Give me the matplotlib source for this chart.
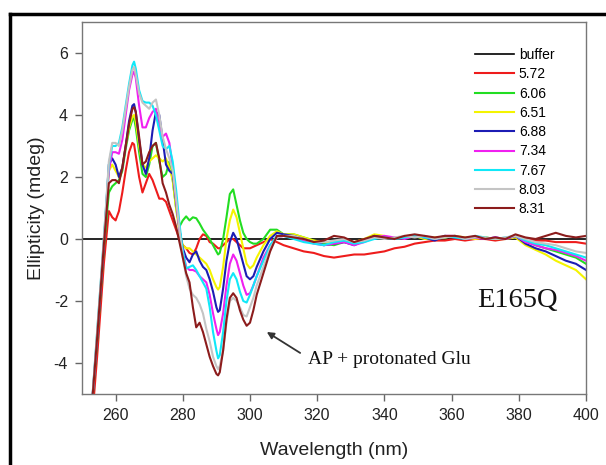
import matplotlib
matplotlib.use("Agg")
import matplotlib.pyplot as plt
from matplotlib.lines import Line2D

plt.rcParams['font.family'] = ['Liberation Sans', 'DejaVu Sans']
plt.rcParams['axes.unicode_minus'] = False

# wavelength grid (nm)
wl = [252.5, 254.5, 256.5, 258, 259, 260, 261, 262, 263, 264, 265, 265.5, 266,
      267, 268, 269, 270, 271, 272, 273, 274, 275, 276, 277, 278, 279, 280,
      281, 282, 283, 284, 285, 286, 287, 288, 289, 290, 290.5, 291, 292, 293,
      294, 295, 296, 297, 298, 299, 300, 301, 302, 304, 306, 308, 310,
      313, 316, 319, 322, 325, 328, 331, 334, 337, 340, 343, 346, 349, 352,
      355, 358, 361, 364, 367, 370, 373, 376, 379, 382, 385, 388, 391, 394,
      397, 400]

wl_buffer = [250, 400]
buffer = [0.0, 0.0]

ph_572 = [-6.5, -3.8, -0.8, 0.9, 0.7, 0.6, 0.9, 1.5, 2.2, 2.8, 3.1, 3.05, 2.7,
          2.0, 1.5, 1.8, 2.1, 1.9, 1.6, 1.3, 1.3, 1.2, 0.9, 0.6, 0.3, 0.0, -0.2,
          -0.3, -0.45, -0.5, -0.3, 0.0, 0.15, 0.1, -0.1, -0.15, -0.25, -0.3, -0.3,
          -0.2, -0.1, 0.0, 0.0, -0.1, -0.2, -0.3, -0.3, -0.3, -0.25, -0.2, -0.1, 0.0, -0.1, -0.2,
          -0.3, -0.4, -0.45, -0.55, -0.6, -0.55, -0.5, -0.5, -0.45, -0.4, -0.3, -0.25,
          -0.15, -0.1, -0.05, -0.05, 0.0, -0.05, 0.0, 0.0, -0.05, 0.0, 0.1, 0.0,
          -0.05, -0.05, -0.1, -0.1, -0.1, -0.15]

ph_606 = [-6.0, -3.3, -0.3, 1.5, 1.7, 1.8, 1.9, 2.2, 2.9, 3.5, 3.85, 3.9, 3.6,
          2.8, 2.1, 2.0, 2.4, 3.0, 3.1, 2.5, 2.0, 2.1, 2.5, 1.9, 1.0, 0.4, 0.6,
          0.73, 0.6, 0.7, 0.67, 0.5, 0.3, 0.15, 0.0, -0.2, -0.4, -0.5, -0.45,
          0.0, 0.7, 1.45, 1.6, 1.1, 0.6, 0.2, 0.0, -0.1, -0.15, -0.15, 0.0, 0.3, 0.3, 0.15,
          0.15, 0.05, -0.05, -0.15, -0.2, -0.1, -0.15, -0.05, 0.05, 0.05, 0.0, 0.05,
          0.1, 0.0, 0.0, 0.05, 0.1, 0.0, 0.05, 0.05, 0.0, 0.0, 0.1, -0.05, -0.2,
          -0.3, -0.4, -0.5, -0.6, -0.8]

ph_651 = [-6.0, -3.1, -0.1, 2.2, 2.4, 2.2, 2.0, 2.3, 3.0, 3.6, 3.95, 4.0, 3.8,
          3.0, 2.4, 2.3, 2.5, 2.6, 2.7, 2.6, 2.5, 2.6, 2.3, 1.9, 1.0, 0.2, -0.2,
          -0.3, -0.3, -0.4, -0.5, -0.6, -0.7, -0.8, -1.0, -1.3, -1.55, -1.63, -1.55,
          -0.9, 0.0, 0.6, 0.95, 0.7, 0.2, -0.3, -0.8, -0.95, -0.85, -0.6, -0.2, 0.1, 0.25, 0.15,
          0.15, 0.05, -0.05, -0.1, -0.1, -0.05, -0.1, 0.0, 0.15, 0.1, 0.0, 0.05,
          0.1, 0.0, 0.05, 0.05, 0.1, 0.05, 0.0, 0.05, 0.0, 0.0, 0.05, -0.2, -0.35,
          -0.5, -0.7, -0.85, -1.0, -1.3]

ph_688 = [-6.0, -3.2, -0.2, 2.4, 2.6, 2.4, 2.0, 2.3, 3.0, 3.8, 4.3, 4.35, 4.1,
          3.2, 2.4, 2.1, 2.6, 3.5, 4.1, 4.0, 3.2, 2.4, 2.2, 2.1, 1.2, 0.3, -0.3,
          -0.6, -0.75, -0.5, -0.4, -0.7, -0.9, -1.0, -1.3, -1.7, -2.2, -2.35, -2.3,
          -1.6, -0.7, -0.1, 0.2, 0.0, -0.4, -0.8, -1.2, -1.3, -1.2, -0.9, -0.4, 0.0, 0.2, 0.15,
          0.1, 0.0, -0.1, -0.2, -0.15, -0.1, -0.2, -0.05, 0.1, 0.05, 0.0, 0.05,
          0.1, 0.05, -0.05, 0.1, 0.05, 0.0, 0.05, 0.0, 0.05, 0.0, 0.1, -0.15, -0.3,
          -0.4, -0.55, -0.7, -0.8, -1.0]

ph_734 = [-6.0, -3.1, -0.1, 2.2, 2.8, 2.8, 2.75, 3.2, 4.0, 4.8, 5.3, 5.4, 5.2,
          4.3, 3.6, 3.6, 3.9, 4.1, 4.2, 3.6, 3.3, 3.4, 3.1, 2.3, 1.3, 0.3, -0.4,
          -0.9, -1.0, -1.0, -1.05, -1.2, -1.3, -1.4, -1.8, -2.4, -2.9, -3.1, -3.0,
          -2.4, -1.5, -0.8, -0.5, -0.7, -1.1, -1.5, -1.8, -1.75, -1.5, -1.2, -0.6, -0.2, 0.05, 0.1,
          0.05, -0.05, -0.15, -0.2, -0.15, -0.1, -0.2, -0.1, 0.05, 0.1, 0.05, 0.0,
          0.1, 0.05, 0.0, 0.1, 0.1, 0.0, 0.05, 0.0, 0.05, 0.0, 0.1, -0.1, -0.2,
          -0.3, -0.35, -0.45, -0.55, -0.7]

ph_767 = [-6.0, -3.0, 0.0, 2.4, 3.0, 3.0, 3.1, 3.6, 4.3, 5.0, 5.6, 5.72, 5.5,
          4.8, 4.45, 4.4, 4.4, 4.3, 4.0, 3.5, 3.0, 2.9, 3.0, 2.5, 1.6, 0.5, -0.4,
          -0.95, -0.9, -0.85, -1.0, -1.2, -1.4, -1.6, -2.2, -3.0, -3.6, -3.85, -3.75,
          -3.0, -2.0, -1.3, -1.1, -1.3, -1.7, -2.0, -2.05, -1.8, -1.5, -1.2, -0.7, -0.2, 0.1, 0.1,
          0.0, -0.1, -0.15, -0.2, -0.1, -0.05, -0.15, -0.1, 0.0, 0.05, 0.0, 0.05,
          0.1, 0.05, 0.0, 0.1, 0.05, 0.0, 0.1, 0.05, 0.0, 0.05, 0.1, -0.05, -0.15,
          -0.2, -0.3, -0.4, -0.5, -0.6]

ph_803 = [-6.0, -3.0, 0.0, 2.5, 3.1, 3.1, 3.0, 3.5, 4.2, 4.9, 5.45, 5.55, 5.3,
          4.7, 4.4, 4.3, 4.2, 4.4, 4.5, 4.0, 3.3, 2.9, 2.6, 2.2, 1.3, 0.3, -0.6,
          -1.2, -1.6, -1.8, -1.9, -2.1, -2.4, -2.9, -3.3, -3.8, -4.1, -4.2, -4.1,
          -3.6, -2.7, -2.0, -1.9, -2.0, -2.2, -2.45, -2.5, -2.2, -1.9, -1.5, -0.9, -0.3, 0.05, 0.1,
          0.1, 0.0, -0.1, -0.1, -0.05, 0.0, -0.1, -0.05, 0.05, 0.0, 0.05, 0.1,
          0.05, 0.1, 0.0, 0.05, 0.1, 0.0, 0.05, 0.05, 0.0, 0.05, 0.1, 0.0, -0.1,
          -0.15, -0.2, -0.3, -0.4, -0.45]

ph_831 = [-6.0, -3.2, -0.2, 1.8, 1.9, 1.9, 1.8, 2.3, 3.0, 3.7, 4.2, 4.25, 4.1,
          3.3, 2.4, 2.5, 2.8, 3.0, 3.1, 2.6, 1.8, 1.5, 1.1, 0.8, 0.4, -0.1, -0.6,
          -1.1, -1.4, -2.2, -2.85, -2.7, -3.0, -3.4, -3.8, -4.1, -4.35, -4.4, -4.3,
          -3.6, -2.6, -1.9, -1.75, -1.9, -2.3, -2.6, -2.8, -2.7, -2.3, -1.8, -1.1, -0.4, 0.1, 0.1,
          0.05, 0.0, -0.1, -0.05, 0.1, 0.05, -0.1, 0.0, 0.1, 0.05, 0.0, 0.1,
          0.15, 0.1, 0.05, 0.1, 0.1, 0.05, 0.1, 0.0, 0.05, 0.0, 0.15, 0.05, 0.0,
          0.1, 0.2, 0.1, 0.05, 0.1]

labels = ['buffer', '5.72', '6.06', '6.51', '6.88', '7.34', '7.67', '8.03', '8.31']
series = [ph_572, ph_606, ph_651, ph_688, ph_734, ph_767, ph_803, ph_831]
line_colors = ['#ee1c1c', '#22dd22', '#f4f400', '#1c1cb4', '#f020f0',
               '#10e8f8', '#c4c4c4', '#8c1c1c']

fig = plt.figure(figsize=(6.06, 4.65), dpi=100)
ax = fig.add_axes([0.1353, 0.1527, 0.8317, 0.80])

handles = []
for y, c in zip(series, line_colors):
    h, = ax.plot(wl, y, color=c, lw=1.5)
    handles.append(h)
hb, = ax.plot(wl_buffer, buffer, color='black', lw=1.2, zorder=1.5)
handles.insert(0, hb)

ax.set_xlim(250, 400)
ax.set_ylim(-5, 7)
ax.set_xticks([260, 280, 300, 320, 340, 360, 380, 400])
ax.set_yticks([-4, -2, 0, 2, 4, 6])
ax.tick_params(direction='out', length=5, width=1, color='#666666',
               labelsize=11.5, pad=5, labelcolor='#222222')
for s in ax.spines.values():
    s.set_color('#777777')
    s.set_linewidth(1.0)

ax.set_xlabel('Wavelength (nm)', fontsize=14, color='#222222', labelpad=14)
ax.set_ylabel('Ellipticity (mdeg)', fontsize=14, color='#222222', labelpad=6)

ax.legend(handles, labels, loc='upper left', bbox_to_anchor=(0.78, 0.93),
          frameon=False, fontsize=10, handlelength=2.8, handletextpad=0.35,
          labelspacing=0.38, borderpad=0, borderaxespad=0)

ax.text(0.785, 0.235, 'E165Q', transform=ax.transAxes, family='Liberation Serif',
        fontsize=20.5, color='#111111')
ax.annotate('AP + protonated Glu', xy=(305, -3.0), xytext=(0.449, 0.08),
            textcoords='axes fraction', family='Liberation Serif', fontsize=14,
            color='#111111', va='baseline',
            arrowprops=dict(arrowstyle='-|>', color='#333333', lw=1.3,
                            mutation_scale=10, shrinkA=0, shrinkB=0,
                            relpos=(-0.05, 0.9)))

# outer black frame of the original figure
fig.add_artist(Line2D([9.5 / 606, 9.5 / 606], [0, 1 - 14 / 465], color='black',
                      lw=2.5, transform=fig.transFigure))
fig.add_artist(Line2D([9.5 / 606, 1], [1 - 14 / 465, 1 - 14 / 465], color='black',
                      lw=2.5, transform=fig.transFigure))

fig.savefig('out.png', dpi=100)
